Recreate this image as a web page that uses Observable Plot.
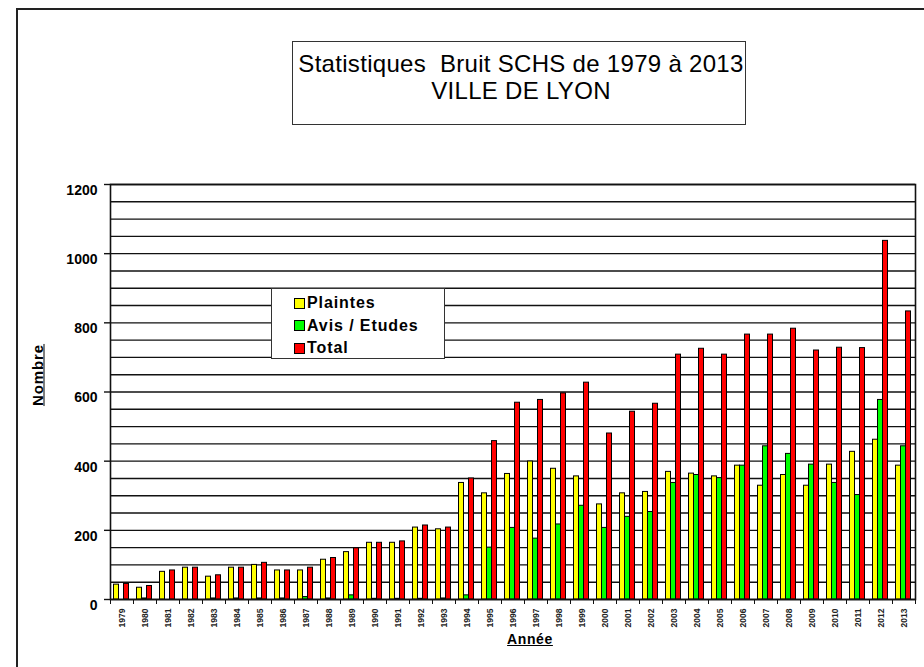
<!DOCTYPE html>
<html><head><meta charset="utf-8">
<script src="https://cdn.jsdelivr.net/npm/d3@7"></script>
<script src="https://cdn.jsdelivr.net/npm/@observablehq/plot@0.6"></script>
<style>
html,body{margin:0;padding:0;overflow:hidden;background:#fff;}
body{font-family:"Liberation Sans",Arial,sans-serif;color:#000;}
#page{position:relative;width:924px;height:667px;overflow:hidden;background:#fff;}
#page svg{position:absolute;left:0;top:0;}
.abs{position:absolute;}
#edgeL{left:16px;top:8px;width:2px;height:659px;background:#222;}
#edgeT{left:16px;top:8px;width:908px;height:2px;background:#222;}
#titlebox{left:292px;top:41px;width:454px;height:84px;border:1.5px solid #333;box-sizing:border-box;background:#fff;}
#titletext{left:292px;top:49.6px;width:458px;text-align:center;font-size:24px;line-height:27.6px;letter-spacing:0.3px;white-space:pre;}
#legend{left:271px;top:288px;width:174px;height:71px;border:1.5px solid #333;box-sizing:border-box;background:#fff;}
.lgsw{position:absolute;width:11px;height:11px;border:1px solid #000;box-sizing:border-box;}
.lgtx{position:absolute;font-size:16px;font-weight:bold;line-height:16px;letter-spacing:0.9px;white-space:nowrap;}
#xtitle{left:480px;top:631px;width:100px;text-align:center;font-size:14px;font-weight:bold;text-decoration:underline;letter-spacing:0.6px;}
#ytitle{left:37px;top:375px;font-size:15px;font-weight:bold;text-decoration:underline;letter-spacing:0.9px;transform:translate(-50%,-50%) rotate(-90deg);white-space:nowrap;}
</style></head><body><div id="page"></div>
<script>
const years = ["1979","1980","1981","1982","1983","1984","1985","1986","1987","1988",
  "1989","1990","1991","1992","1993","1994","1995","1996","1997","1998",
  "1999","2000","2001","2002","2003","2004","2005","2006","2007","2008",
  "2009","2010","2011","2012","2013"];
const plaintes = [43,34,80,92,66,92,100,84,84,115,
  137,164,164,208,203,337,307,363,399,378,
  356,275,307,311,369,364,356,387,329,360,
  329,390,427,462,387];
const avis = [0,3,0,0,3,3,3,3,7,3,
  12,2,2,2,3,12,150,207,176,217,
  271,207,239,253,337,360,351,387,443,421,
  390,337,302,577,443];
const total = [45,39,84,92,70,92,106,84,92,120,
  148,164,168,214,208,350,458,569,577,596,
  627,480,543,566,708,725,708,766,766,783,
  720,728,727,1037,833];
const seriesNames = ["Plaintes","Avis / Etudes","Total"];
const seriesColors = ["#FFFF00","#00FF00","#FF0000"];
const yTicks = [0,200,400,600,800,1000,1200];
const gridValues = [0,50,100,150,200,250,300,350,400,450,500,550,600,650,700,750,800,850,900,950,1000,1050,1100,1150,1200];
const titleLines = ["Statistiques  Bruit SCHS de 1979 à 2013","VILLE DE LYON"];
const xTitle = "Année";
const yTitle = "Nombre";

const seriesValues = [plaintes, avis, total];
const insets = [[3.5,14.5],[8.5,9.5],[13.5,4.5]];

const page = document.getElementById("page");

const chart = Plot.plot({
  width: 924, height: 667,
  marginLeft: 110, marginRight: 9, marginTop: 184, marginBottom: 68,
  x: {type: "band", domain: years, padding: 0, label: null},
  y: {domain: [0, 1200], label: null},
  style: {fontFamily: "'Liberation Sans', Arial, sans-serif", background: "transparent", color: "#000"},
  marks: [
    Plot.ruleY(gridValues, {stroke: "#111", strokeWidth: 1.4}),
    ...seriesValues.map((vals, s) => Plot.barY(years, {
      x: d => d, y: (d, i) => vals[i],
      fill: seriesColors[s], stroke: "#000", strokeWidth: 1,
      insetLeft: insets[s][0], insetRight: insets[s][1]
    })),
    Plot.frame({stroke: "#111", strokeWidth: 1.6}),
    Plot.axisY(yTicks, {tickSize: 6, tickFormat: () => "", label: null, stroke: "#111", strokeWidth: 1.4}),
    Plot.axisY(yTicks, {tickSize: 0, tickPadding: 13, dy: 6, fontSize: 14, fontWeight: "bold", label: null, tickFormat: d => String(d)}),
    Plot.axisX(years, {tickSize: 5, dx: -11.5, tickFormat: () => "", label: null, stroke: "#111"}),
    Plot.axisX([years[years.length - 1]], {tickSize: 5, dx: 11.5, tickFormat: () => "", label: null, stroke: "#111"}),
    Plot.axisX(years, {tickSize: 0, tickPadding: 9, tickRotate: -90, fontSize: 8.5, fontWeight: "bold", label: null, fill: "#222"})
  ]
});
page.appendChild(chart);

for (const id of ["edgeL", "edgeT"]) { const e = document.createElement("div"); e.className = "abs"; e.id = id; page.appendChild(e); }

const tb = document.createElement("div"); tb.className="abs"; tb.id="titlebox"; page.appendChild(tb);
const tt = document.createElement("div"); tt.className="abs"; tt.id="titletext"; tt.textContent = titleLines.join("\n"); page.appendChild(tt);

const lg = document.createElement("div"); lg.className="abs"; lg.id="legend"; page.appendChild(lg);
seriesNames.forEach((name, i) => {
  const sw = document.createElement("div"); sw.className = "lgsw";
  sw.style.left = (292.7 - 271) + "px"; sw.style.top = (296.5 + 22.7 * i - 288) + "px";
  sw.style.background = seriesColors[i]; lg.appendChild(sw);
  const tx = document.createElement("div"); tx.className = "lgtx";
  tx.style.left = (306 - 271) + "px"; tx.style.top = (293.8 + 22.7 * i - 288) + "px";
  tx.textContent = name; lg.appendChild(tx);
});

const xt = document.createElement("div"); xt.className="abs"; xt.id="xtitle"; xt.textContent = xTitle; page.appendChild(xt);
const yt = document.createElement("div"); yt.className="abs"; yt.id="ytitle"; yt.textContent = yTitle; page.appendChild(yt);
</script></body></html>
